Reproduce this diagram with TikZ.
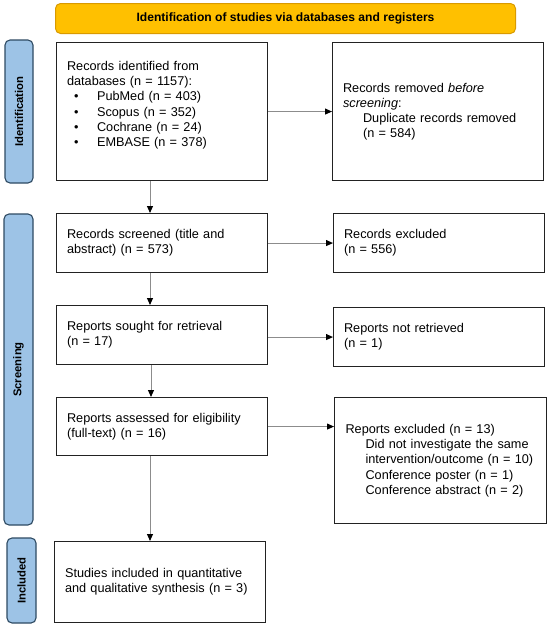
\documentclass[tikz,border=0pt]{standalone}
\usepackage{fontspec}
\setmainfont{Liberation Sans}
\usetikzlibrary{arrows.meta}
\definecolor{bannerfill}{HTML}{FFC000}
\definecolor{bannerdraw}{HTML}{D99A00}
\definecolor{phasefill}{HTML}{9DC3E6}
\definecolor{phasedraw}{HTML}{2E4A62}
\definecolor{boxdraw}{HTML}{222222}
\definecolor{linkgray}{HTML}{8C8C8C}
\begin{document}
\begin{tikzpicture}[x=1pt,y=-1pt,
  box/.style={draw=boxdraw, line width=1.1pt, rectangle, inner xsep=10.5pt, inner ysep=0pt,
    text width=190pt, align=left, anchor=north west,
    font=\fontsize{12.7}{15.2}\selectfont},
  banner/.style={draw=bannerdraw, fill=bannerfill, line width=1pt, rounded corners=5pt,
    anchor=north west, font=\bfseries\fontsize{12.1}{14}\selectfont},
  phase/.style={draw=phasedraw, fill=phasefill, line width=1.1pt, rounded corners=5pt,
    rotate=90, inner sep=0pt, font=\bfseries\fontsize{11.3}{13}\selectfont},
  link/.style={draw=linkgray, line width=1pt, -{Triangle[length=7pt,width=6pt,color=black]}}
]
\useasboundingbox (0,0) rectangle (550,629);
\coordinate (xa) at (150,0);
\coordinate (xb) at (151,0);

\node[banner, minimum width=460pt, minimum height=30pt] (title) at (55,3)
  {Identification of studies via databases and registers};

\node[phase, minimum width=143pt, minimum height=28pt] (ph1) at (19,111.5) {Identification};
\node[phase, minimum width=311pt, minimum height=29pt] (ph2) at (18.5,369.5) {Screening};
\node[phase, minimum width=85pt, minimum height=29pt] (ph3) at (21.5,580.5) {Included};

\node[box, minimum width=211pt, minimum height=138pt] (b1) at (56,42)
  {Records identified from\\
   databases (n = 1157):\\
   \hspace*{7pt}\makebox[23pt][l]{\textbullet}PubMed (n = 403)\\
   \hspace*{7pt}\makebox[23pt][l]{\textbullet}Scopus (n = 352)\\
   \hspace*{7pt}\makebox[23pt][l]{\textbullet}Cochrane (n = 24)\\
   \hspace*{7pt}\makebox[23pt][l]{\textbullet}EMBASE (n = 378)\\
   \mbox{}};
\node[box, minimum width=210pt, minimum height=138pt] (r1) at (332,42)
  {Records removed \textit{before}\\
   \textit{screening}:\\
   \hspace*{20pt}Duplicate records removed\\
   \hspace*{20pt}(n = 584)};

\node[box, minimum width=211pt, minimum height=59pt] (b2) at (56,213)
  {Records screened (title and\\abstract) (n = 573)};
\node[box, minimum width=210pt, minimum height=59pt] (r2) at (333,213)
  {Records excluded\\(n = 556)};

\node[box, minimum width=211pt, minimum height=59pt] (b3) at (56,305)
  {Reports sought for retrieval\\(n = 17)};
\node[box, minimum width=210pt, minimum height=59pt] (r3) at (333,307)
  {Reports not retrieved\\(n = 1)};

\node[box, minimum width=211pt, minimum height=58pt] (b4) at (56,397)
  {Reports assessed for eligibility\\(full-text) (n = 16)};
\node[box, minimum width=212pt, minimum height=126pt] (r4) at (334,397)
  {Reports excluded (n = 13)\\
   \hspace*{20pt}Did not investigate the same\\
   \hspace*{20pt}intervention/outcome (n = 10)\\
   \hspace*{20pt}Conference poster (n = 1)\\
   \hspace*{20pt}Conference abstract (n = 2)};

\node[box, minimum width=211pt, minimum height=81pt] (b5) at (54,541)
  {Studies included in quantitative\\and qualitative synthesis (n = 3)};

\draw[link] (b1.east) -- (r1.west);
\draw[link] (b2.east) -- (r2.west);
\draw[link] (b3.east |- r3.west) -- (r3.west);
\draw[link] (b4.east) -- (b4.east -| r4.west);

\draw[link] (b1.south -| xa) -- (b2.north -| xa);
\draw[link] (b2.south -| xa) -- (b3.north -| xa);
\draw[link] (b3.south -| xb) -- (b4.north -| xb);
\draw[link] (b4.south -| xa) -- (b5.north -| xa);
\end{tikzpicture}
\end{document}
